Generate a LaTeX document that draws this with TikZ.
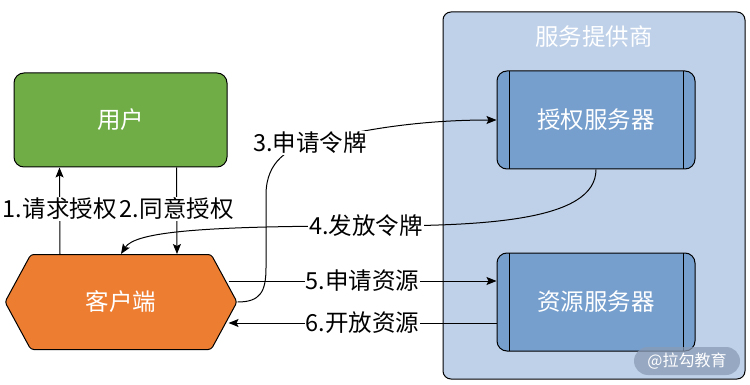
\documentclass[tikz,border=0pt]{standalone}
\usepackage{fontspec}
\setmainfont{Noto Sans CJK SC}
\usetikzlibrary{arrows.meta, shapes.symbols}
\definecolor{cgreen}{HTML}{70AD47}
\definecolor{corange}{HTML}{ED7D31}
\definecolor{cpale}{HTML}{BFD1E9}
\definecolor{cmid}{HTML}{769FCD}
\definecolor{cmark}{HTML}{8A9BB5}
\tikzset{
  every picture/.style={font=\fontsize{23.5}{26}\selectfont, line width=1pt, x=1pt, y=-1pt},
  box/.style={draw=black, fill=#1, text=white, rounded corners=10pt, align=center, inner sep=2pt},
  box/.default=cgreen,
  arrow/.style={-{Stealth[length=10pt, width=8pt, inset=2pt]}, draw=black, line width=1pt},
  lbl/.style={fill=white, inner sep=1pt},
}

\begin{document}
\begin{tikzpicture}[usr/.style={box=cgreen, minimum width=213pt, minimum height=94pt},
  cli/.style={draw=black, fill=corange, text=white, shape=signal, signal to=west and east,
    signal pointer angle=123, minimum width=232pt, minimum height=95pt, rounded corners=3pt},
  prov/.style={box=cpale, rounded corners=8pt, minimum width=302pt, minimum height=367pt},
  srv/.style={box=cmid, minimum width=198pt, minimum height=98pt,
    path picture={\draw ([xshift=12pt]path picture bounding box.north west) -- ([xshift=12pt]path picture bounding box.south west)
      ([xshift=-12pt]path picture bounding box.north east) -- ([xshift=-12pt]path picture bounding box.south east);}}]
  \useasboundingbox (0,0) rectangle (750,385);
  \node[prov] (prov) at (594,195.5) {};
  \node[text=white] (provtitle) at (594,37) {服务提供商};
  \node[srv] (auth) at (596,120) {授权服务器};
  \node[srv] (res) at (596,302) {资源服务器};
  \node[usr] (user) at (120.5,120) {用户};
  \node[cli] (client) at (121,302) {客户端};
  \draw[arrow] ([xshift=-61pt]client.north) -- node[lbl, pos=0.52] {1.请求授权} ([xshift=-61pt]user.south);
  \draw[arrow] ([xshift=56pt]user.south) -- node[lbl, pos=0.48] {2.同意授权} ([xshift=56pt]client.north);
  \draw[arrow] (client.east) .. controls (260,302) and (266,292) .. (266,268) -- (266,195)
    .. controls (266,160) and (290,148) .. (310,143) node[lbl] {3.申请令牌}
    .. controls (370,127) and (430,120) .. (auth.west);
  \draw[arrow] (auth.south) .. controls (596,222) and (480,226) .. (366,226) node[lbl] {4.发放令牌}
    .. controls (200,226) and (135,232) .. (client.north);
  \draw[arrow] ([xshift=-9pt,yshift=21pt]client.east) -- node[lbl, pos=0.5] {5.申请资源} ([yshift=21pt]res.west);
  \draw[arrow] ([yshift=-21pt]res.west) -- node[lbl, pos=0.5] {6.开放资源} ([xshift=-9pt,yshift=-21pt]client.east);
  \node[fill=cmark, fill opacity=0.75, text opacity=1, text=white, rounded corners=14pt, minimum width=106pt,
    minimum height=28pt, font=\fontsize{16}{18}\selectfont] (mark) at (687,361) {@拉勾教育};
\end{tikzpicture}
\end{document}
